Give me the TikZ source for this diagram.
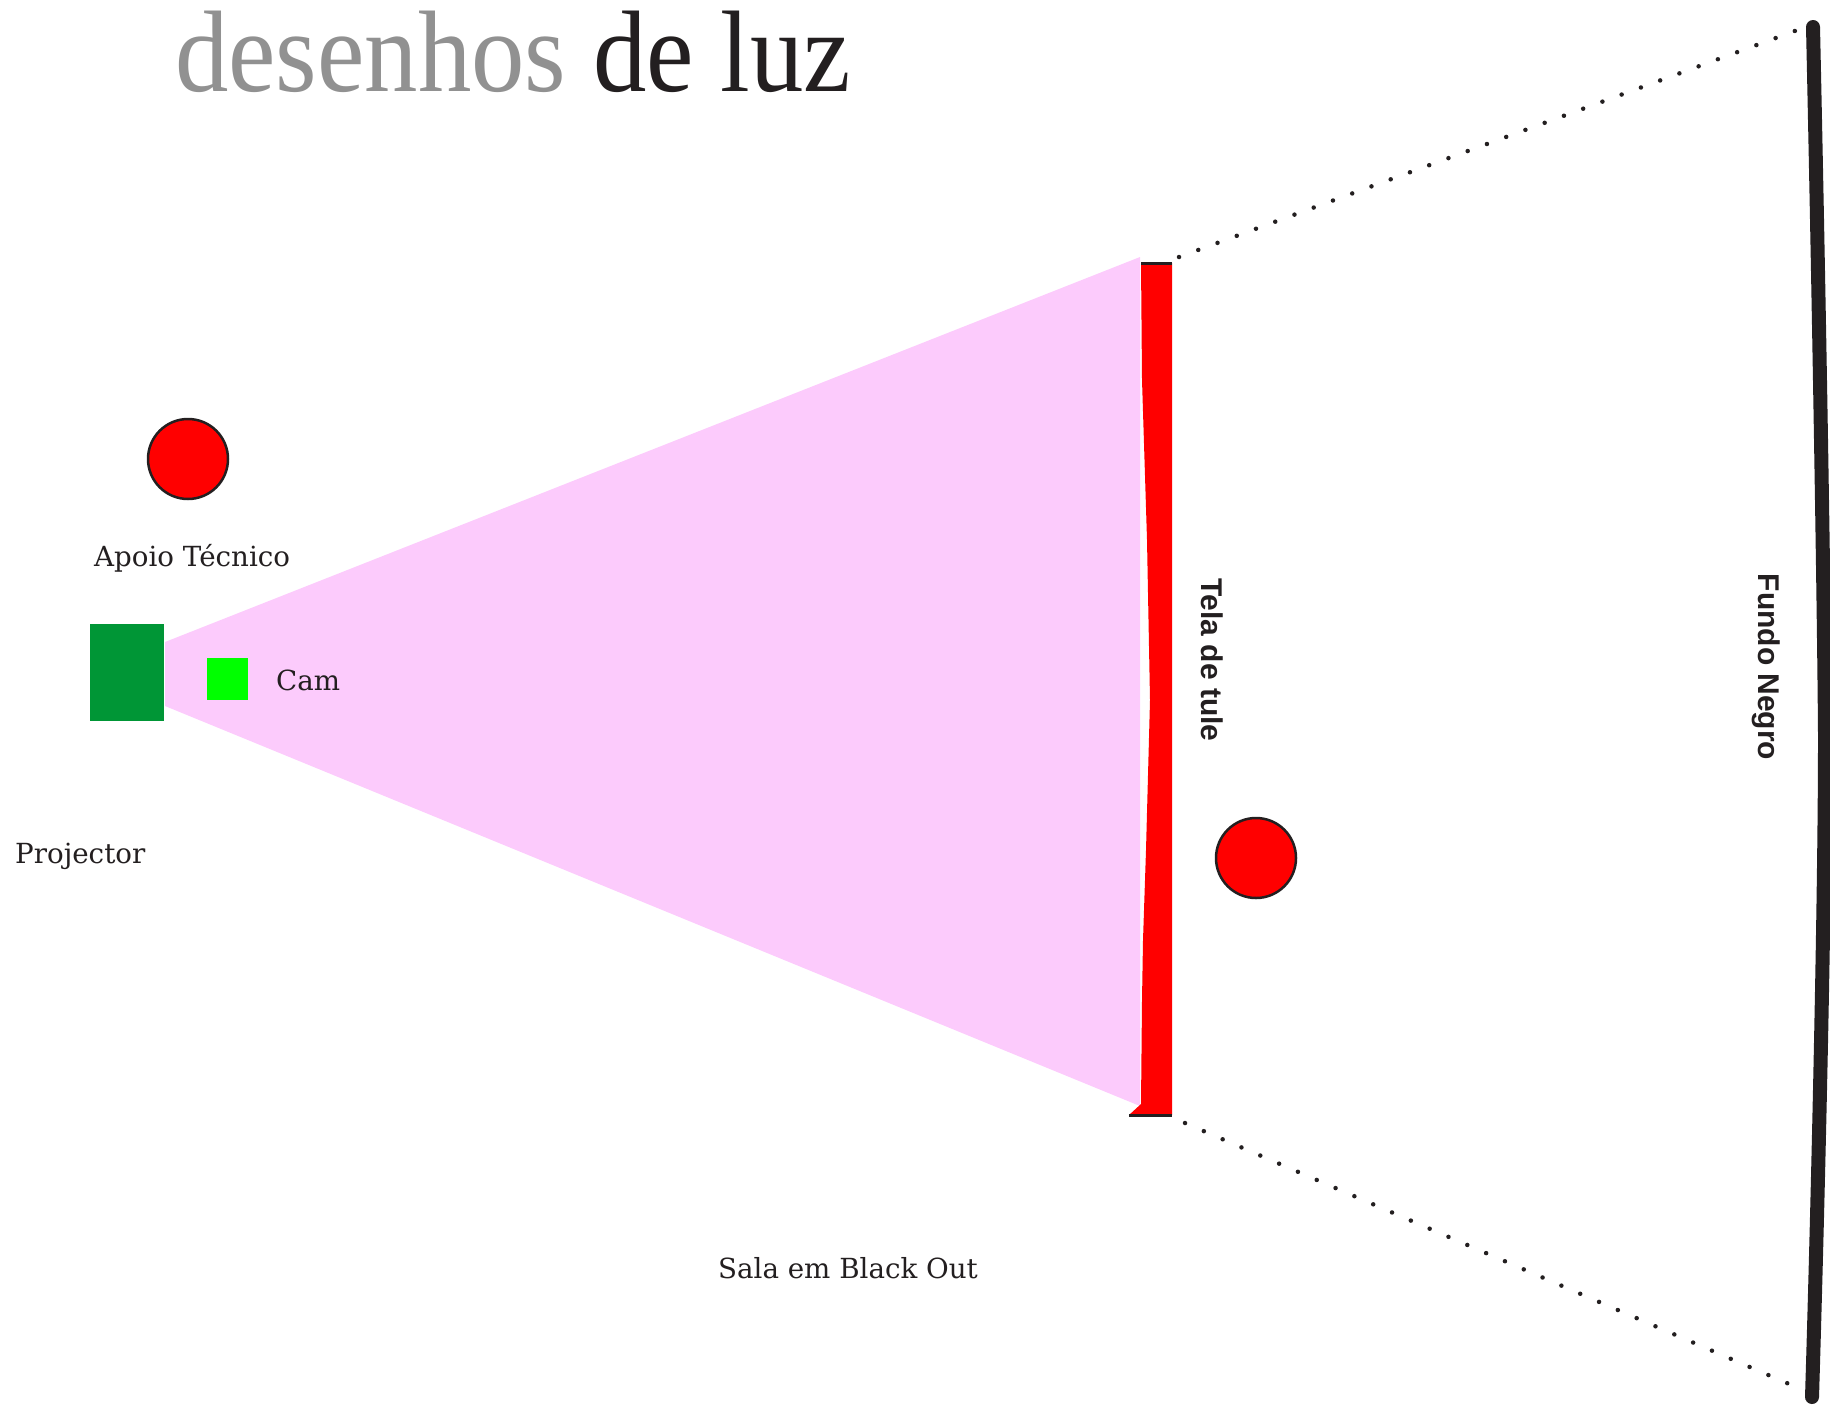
\documentclass[tikz,border=0pt]{standalone}
\usepackage{graphicx}
\usepackage{fontspec}
\setmainfont{DejaVu Serif}
\newfontfamily\titlefont{Liberation Serif}
\newfontfamily\labelfont{Liberation Sans}
\definecolor{ink}{HTML}{231F20}
\definecolor{beam}{HTML}{FCCBFC}
\definecolor{projgreen}{RGB}{0,150,54}
\definecolor{camgreen}{RGB}{0,255,0}
\definecolor{titlegray}{RGB}{145,145,145}
\begin{document}
\begin{tikzpicture}[x=1pt,y=-1pt,
  lamp/.style={circle, fill=red, draw=ink, line width=2.5pt, minimum size=80pt, inner sep=0pt},
  seriflabel/.style={font=\fontsize{27.7}{30}\selectfont, text=ink, inner sep=0pt, anchor=base west},
  sidelabel/.style={font=\labelfont\bfseries\fontsize{30}{32}\selectfont, text=ink, inner sep=0pt, rotate=-90},
  guide/.style={draw=ink, line width=4.5pt, line cap=round, dash pattern=on 0pt off 20.5pt},
  block/.style={inner sep=0pt, anchor=north west}]
\useasboundingbox (0,0) rectangle (1830,1411);
% title
\node[inner sep=0pt, anchor=base west, text=ink] (title) at (175,91)
  {\titlefont\fontsize{116}{116}\selectfont\scalebox{0.92}[1]{\textcolor{titlegray}{desenhos} de luz}};
% beam
\fill[beam] (165,642) -- (1140,257) -- (1140,1106) -- (165,706) -- cycle;
% projector and camera
\node[block, fill=projgreen, minimum width=74pt, minimum height=97pt] (proj) at (90,624) {};
\node[block, fill=camgreen, minimum width=41pt, minimum height=42pt] (cam) at (207,658) {};
% screen (tela de tule)
\fill[red] (1141,263) -- (1172,263) -- (1172,1115) -- (1129,1115) -- (1141,1104)
  -- (1142,1000) -- (1143,940) -- (1146,850) -- (1150,700) -- (1147,540) -- (1142,380) -- cycle;
\coordinate (screentl) at (1141,263);
\coordinate (screentr) at (1172,263);
\coordinate (screenbl) at (1129,1115);
\coordinate (screenbr) at (1172,1115);
\draw[ink, line width=3pt] (screentl) -- (screentr);
\draw[ink, line width=3pt] (screenbl) -- (screenbr);
% lamps
\node[lamp] (lamp1) at (188,459) {};
\node[lamp] (lamp2) at (1256,858) {};
% back wall
\coordinate (walltop) at (1813,27);
\coordinate (wallmid) at (1825,735);
\coordinate (wallbot) at (1812,1397);
\draw[ink, line width=14pt, line cap=round, line join=round]
  (walltop) .. controls (1819,300) and (1824,600) .. (wallmid)
  .. controls (1825,900) and (1818,1200) .. (wallbot);
% sight lines
\coordinate (gt0) at (1179,257);
\coordinate (gt1) at (1803,28);
\coordinate (gb0) at (1185,1123);
\coordinate (gb1) at (1803,1390);
\draw[guide] (gt0) -- (gt1);
\draw[guide] (gb0) -- (gb1);
% labels
\node[seriflabel] (apoio) at (94,566) {Apoio Técnico};
\node[seriflabel] (camlabel) at (276,690) {Cam};
\node[seriflabel] (projlabel) at (15,863) {Projector};
\node[seriflabel] (sala) at (718,1278) {Sala em Black Out};
\node[sidelabel] (tela) at (1212,660) {Tela de tule};
\node[sidelabel] (fundo) at (1766,667) {Fundo Negro};
\end{tikzpicture}
\end{document}
